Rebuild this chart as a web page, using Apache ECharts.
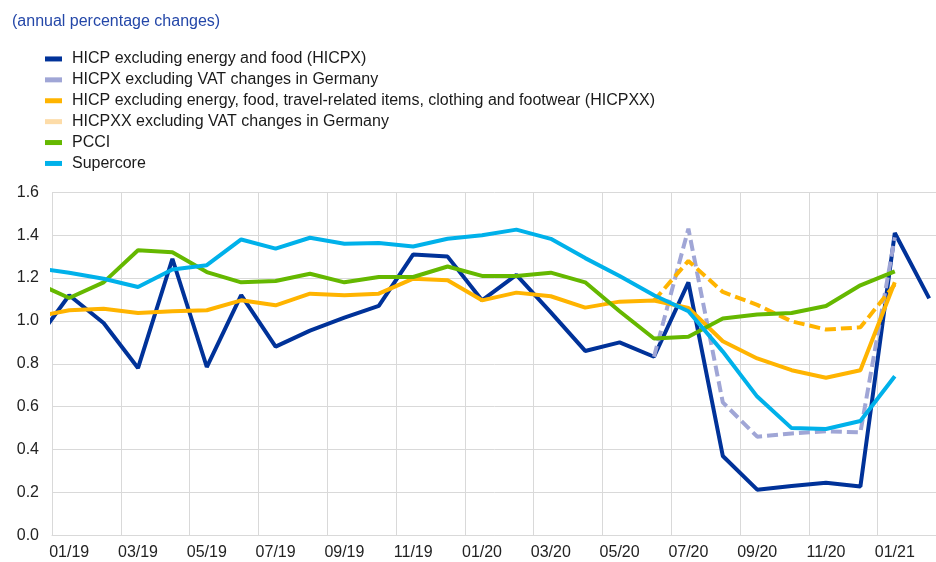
<!DOCTYPE html>
<html>
<head>
<meta charset="utf-8">
<script src="https://cdn.jsdelivr.net/npm/echarts@6/dist/echarts.min.js"></script>
<style>
  html, body { margin: 0; padding: 0; background: #fff; }
  #chart { width: 936px; height: 562px; }
</style>
</head>
<body>
<div id="chart"></div>
<script>
// months from 12/18 (first point, cut off by the left edge) to 02/21
var months = ['12/18',
  '01/19', '02/19', '03/19', '04/19', '05/19', '06/19', '07/19', '08/19', '09/19', '10/19', '11/19', '12/19',
  '01/20', '02/20', '03/20', '04/20', '05/20', '06/20', '07/20', '08/20', '09/20', '10/20', '11/20', '12/20',
  '01/21', '02/21'];

var hicpx = [0.90,
  1.12, 0.99, 0.78, 1.29, 0.785, 1.12, 0.88, 0.955, 1.015, 1.07, 1.31, 1.30,
  1.096, 1.215, 1.04, 0.86, 0.90, 0.833, 1.18, 0.37, 0.213, 0.23, 0.245, 0.228,
  1.41, 1.105];
var hicpxVat = [null,
  null, null, null, null, null, null, null, null, null, null, null, null,
  null, null, null, null, null, 0.833, 1.43, 0.62, 0.46, 0.475, 0.485, 0.48,
  1.39, null];
var hicpxx = [1.018,
  1.05, 1.057, 1.037, 1.045, 1.05, 1.096, 1.073, 1.127, 1.12, 1.127, 1.197, 1.19,
  1.096, 1.132, 1.115, 1.062, 1.09, 1.095, 1.06, 0.905, 0.825, 0.77, 0.735, 0.77,
  1.18, null];
var hicpxxVat = [null,
  null, null, null, null, null, null, null, null, null, null, null, null,
  null, null, null, null, null, 1.095, 1.28, 1.135, 1.075, 0.998, 0.96, 0.97,
  1.17, null];
var pcci = [1.18,
  1.107, 1.18, 1.33, 1.32, 1.228, 1.18, 1.186, 1.22, 1.18, 1.205, 1.205, 1.254,
  1.21, 1.21, 1.225, 1.18, 1.045, 0.918, 0.926, 1.011, 1.03, 1.037, 1.07, 1.166,
  1.231, null];
var supercore = [1.247,
  1.225, 1.197, 1.158, 1.24, 1.26, 1.38, 1.337, 1.388, 1.36, 1.363, 1.347, 1.383,
  1.40, 1.426, 1.383, 1.293, 1.21, 1.12, 1.045, 0.857, 0.647, 0.50, 0.496, 0.533,
  0.742, null];

var yTicks = [0, 0.2, 0.4, 0.6, 0.8, 1.0, 1.2, 1.4, 1.6];

var names = [
  'HICP excluding energy and food (HICPX)',
  'HICPX excluding VAT changes in Germany',
  'HICP excluding energy, food, travel-related items, clothing and footwear (HICPXX)',
  'HICPXX excluding VAT changes in Germany',
  'PCCI',
  'Supercore'
];

// x = month index, 01/19 is 0
function toPoints(values) {
  return values.map(function (v, i) { return [i - 1, v]; });
}

var font = '"Liberation Sans", Arial, sans-serif';

function lineSeries(name, values, color, dashed) {
  return {
    name: name,
    type: 'line',
    xAxisIndex: 1,
    data: toPoints(values),
    symbol: 'none',
    showSymbol: false,
    itemStyle: { color: color },
    lineStyle: { color: color, width: 4, type: dashed ? [11, 5] : 'solid' },
    emphasis: { disabled: true }
  };
}

var myChart = echarts.init(document.getElementById('chart'));
var option = {
  animation: false,
  backgroundColor: '#fff',
  title: {
    text: '(annual percentage changes)',
    left: 12,
    top: 14,
    padding: 0,
    textStyle: { color: '#2447a8', fontSize: 16, fontWeight: 'normal', fontFamily: font }
  },
  legend: {
    orient: 'vertical',
    left: 45,
    top: 48.5,
    padding: 0,
    itemGap: 0,
    itemWidth: 17,
    itemHeight: 5,
    icon: 'rect',
    selectedMode: false,
    textStyle: { color: '#1a1a1a', fontSize: 16, lineHeight: 20.9, fontFamily: font, padding: [0, 0, 0, 5] },
    data: [
      { name: names[0], itemStyle: { color: '#003299', borderWidth: 0 } },
      { name: names[1], itemStyle: { color: '#a0a6d6', borderWidth: 0 } },
      { name: names[2], itemStyle: { color: '#ffb400', borderWidth: 0 } },
      { name: names[3], itemStyle: { color: '#fddca8', borderWidth: 0 } },
      { name: names[4], itemStyle: { color: '#65b800', borderWidth: 0 } },
      { name: names[5], itemStyle: { color: '#00b1ea', borderWidth: 0 } }
    ]
  },
  grid: {
    // the plot runs a little past the right edge of the picture
    left: 52,
    top: 192.3,
    width: 894.4,
    height: 343,
    containLabel: false,
    outerBoundsMode: 'none'
  },
  xAxis: [{
    type: 'category',
    data: months.slice(1),
    boundaryGap: true,
    axisLine: { show: true, lineStyle: { color: '#d9d9d9', width: 1 } },
    axisTick: { show: false },
    axisLabel: { interval: 1, margin: 9, color: '#222', fontSize: 16, fontFamily: font },
    splitLine: { show: true, interval: 1, lineStyle: { color: '#d9d9d9', width: 1 } }
  }, {
    // hidden value axis that places the lines on the month centres
    type: 'value',
    min: -0.5,
    max: months.length - 1.5,
    show: false,
    splitLine: { show: false }
  }],
  yAxis: {
    type: 'value',
    min: yTicks[0],
    max: yTicks[yTicks.length - 1],
    interval: 0.2,
    axisLine: { show: false },
    axisTick: { show: false },
    axisLabel: {
      margin: 13,
      color: '#222',
      fontSize: 16,
      fontFamily: font,
      formatter: function (v) { return v.toFixed(1); }
    },
    splitLine: { lineStyle: { color: '#d9d9d9', width: 1 } }
  },
  series: [
    lineSeries(names[0], hicpx, '#003299', false),
    lineSeries(names[1], hicpxVat, '#a0a6d6', true),
    lineSeries(names[2], hicpxx, '#ffb400', false),
    lineSeries(names[3], hicpxxVat, '#ffb400', true),
    lineSeries(names[4], pcci, '#65b800', false),
    lineSeries(names[5], supercore, '#00b1ea', false)
  ]
};

option && myChart.setOption(option);
</script>
</body>
</html>
